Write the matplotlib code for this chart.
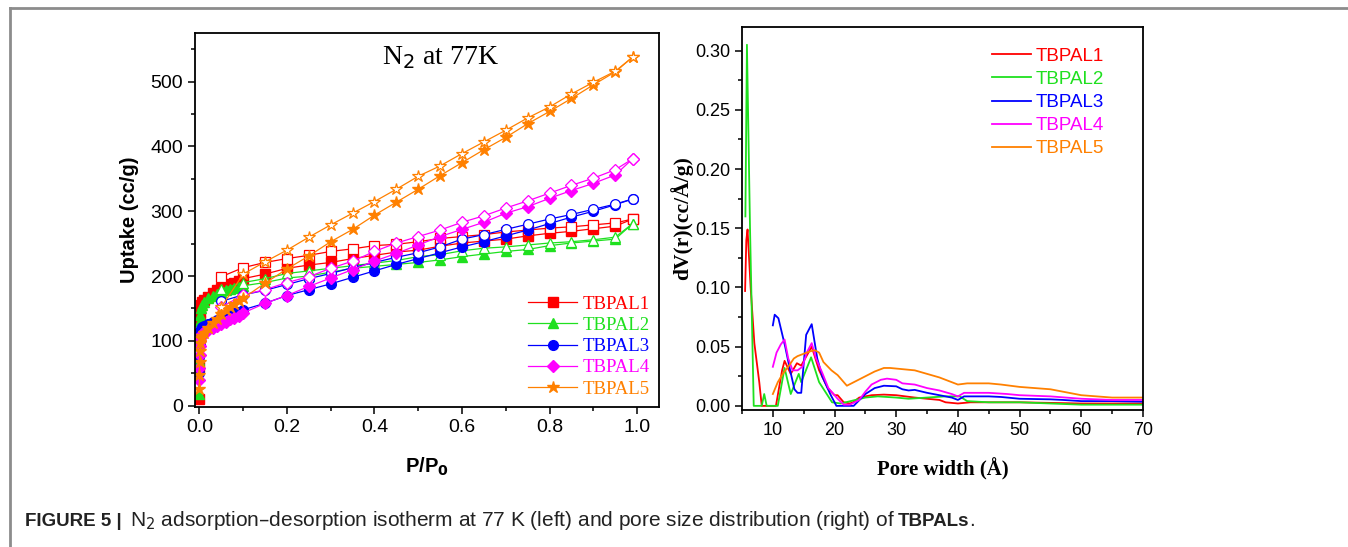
import matplotlib
matplotlib.use("Agg")
import matplotlib.pyplot as plt
from matplotlib.lines import Line2D
from matplotlib.ticker import MultipleLocator, FormatStrFormatter

# ---------------- data: left panel (N2 isotherms) ----------------
p_ads = [0.00005, 0.0002, 0.0005, 0.001, 0.002, 0.004, 0.007, 0.01,
         0.02, 0.03, 0.04, 0.05, 0.06, 0.07, 0.08, 0.09, 0.10,
         0.15, 0.20, 0.25, 0.30, 0.35, 0.40, 0.45, 0.50, 0.55, 0.60,
         0.65, 0.70, 0.75, 0.80, 0.85, 0.90, 0.95, 0.99]
p_des = [0.05, 0.10, 0.15, 0.20, 0.25, 0.30, 0.35, 0.40, 0.45, 0.50,
         0.55, 0.60, 0.65, 0.70, 0.75, 0.80, 0.85, 0.90, 0.95, 0.99]

tbpal1_ads = [10, 60, 110, 130, 145, 155, 160, 163,
              168, 174, 178, 182, 185, 188, 190, 193, 196,
              203, 212, 217, 221, 227, 232, 237, 240, 246, 251,
              254, 257, 262, 266, 269, 273, 277, 288]
tbpal1_des = [199, 213, 221, 227, 232, 238, 242, 247, 249, 253,
              258, 261, 264, 268, 271, 274, 276, 279, 282, 288]

tbpal2_ads = [18, 70, 110, 130, 140, 150, 155, 160,
              166, 170, 173, 176, 178, 180, 181, 183, 185,
              190, 197, 200, 206, 212, 215, 218, 221, 225, 230,
              234, 238, 241, 247, 251, 254, 257, 281]
tbpal2_des = [180, 190, 196, 204, 208, 212, 216, 220, 224, 230,
              233, 239, 243, 245, 248, 251, 253, 256, 260, 281]

tbpal3_ads = [50, 75, 95, 108, 115, 119, 121, 123,
              126, 129, 132, 135, 138, 140, 143, 145, 148,
              158, 170, 179, 188, 198, 208, 218, 227, 236, 245,
              253, 262, 271, 281, 291, 300, 310, 319]
tbpal3_des = [161, 171, 178, 187, 196, 204, 213, 221, 229, 236,
              245, 257, 264, 272, 280, 288, 295, 303, 311, 319]

tbpal4_ads = [40, 58, 78, 92, 100, 106, 110, 113,
              117, 120, 123, 126, 129, 133, 136, 139, 143,
              158, 170, 184, 197, 210, 223, 235, 248, 261, 272,
              283, 297, 307, 320, 332, 343, 356, 381]
tbpal4_des = [152, 171, 179, 190, 199, 212, 223, 238, 251, 261,
              271, 283, 293, 305, 316, 328, 340, 351, 364, 381]

tbpal5_ads = [25, 48, 68, 85, 97, 104, 108, 112,
              120, 127, 134, 141, 147, 152, 157, 161, 166,
              189, 211, 231, 253, 272, 294, 314, 334, 355, 375,
              395, 414, 435, 454, 474, 495, 515, 538]
tbpal5_des = [152, 203, 222, 240, 260, 279, 297, 315, 334, 354,
              370, 389, 407, 425, 444, 461, 481, 499, 516, 538]

labels = ["TBPAL1", "TBPAL2", "TBPAL3", "TBPAL4", "TBPAL5"]
colors = ["#ff0000", "#1fe01f", "#0000ff", "#ff00ff", "#ff8000"]
markers = ["s", "^", "o", "D", "*"]
ads_sets = [tbpal1_ads, tbpal2_ads, tbpal3_ads, tbpal4_ads, tbpal5_ads]
des_sets = [tbpal1_des, tbpal2_des, tbpal3_des, tbpal4_des, tbpal5_des]

# ---------------- data: right panel (pore size distribution) ----------------
psd1_x = [5.5, 5.7, 5.9, 6.4, 7.0, 7.8, 8.2, 10.5, 11.5, 11.9, 12.9, 13.9, 14.6,
          16.3, 17.5, 18.9, 20.0, 20.5, 21.5, 22.5, 23.0, 24.0, 26.0, 28.0, 30.0,
          33.0, 35.0, 37.0, 38.0, 40.0, 42.0, 50.0, 60.0, 70.0]
psd1_y = [0.097, 0.140, 0.149, 0.100, 0.053, 0.020, 0.0, 0.0, 0.030, 0.038, 0.027,
          0.036, 0.034, 0.050, 0.030, 0.015, 0.009, 0.009, 0.003, 0.002, 0.003,
          0.007, 0.009, 0.0095, 0.009, 0.007, 0.006, 0.005, 0.003, 0.002, 0.003,
          0.003, 0.002, 0.002]

psd2_x = [5.55, 5.8, 6.3, 6.9, 8.2, 8.6, 9.0, 10.8, 11.9, 12.9, 14.2, 14.6, 16.2,
          17.5, 19.6, 21.0, 25.0, 27.0, 30.0, 32.0, 35.0, 38.0, 40.3, 41.5, 45.0,
          50.0, 55.0, 60.0, 70.0]
psd2_y = [0.160, 0.305, 0.150, 0.0, 0.0, 0.010, 0.0, 0.0, 0.032, 0.010, 0.027,
          0.020, 0.041, 0.020, 0.003, 0.002, 0.007, 0.008, 0.007, 0.006, 0.007,
          0.008, 0.008, 0.004, 0.003, 0.003, 0.002, 0.001, 0.001]

psd3_x = [10.0, 10.3, 10.9, 12.0, 12.8, 13.5, 14.0, 14.6, 15.4, 16.3, 17.2, 18.0,
          19.3, 20.3, 23.1, 25.0, 26.5, 28.0, 30.0, 31.0, 32.0, 33.0, 35.0, 37.0,
          39.0, 40.0, 41.0, 45.0, 47.0, 50.0, 55.0, 57.0, 60.0, 65.0, 70.0]
psd3_y = [0.068, 0.077, 0.074, 0.050, 0.030, 0.014, 0.011, 0.011, 0.060, 0.069,
          0.040, 0.025, 0.010, 0.0, 0.0, 0.010, 0.015, 0.017, 0.0165, 0.014,
          0.013, 0.0135, 0.011, 0.009, 0.007, 0.005, 0.008, 0.008, 0.0075,
          0.006, 0.0055, 0.005, 0.004, 0.004, 0.0035]

psd4_x = [10.0, 10.6, 11.3, 11.9, 12.5, 13.2, 14.0, 14.8, 15.5, 16.3, 17.0, 18.0,
          19.0, 20.5, 21.5, 22.5, 24.0, 25.0, 26.0, 27.5, 28.5, 30.0, 31.0, 33.0,
          35.0, 37.0, 39.0, 40.0, 41.0, 45.0, 48.0, 50.0, 55.0, 60.0, 65.0, 70.0]
psd4_y = [0.033, 0.045, 0.052, 0.056, 0.040, 0.030, 0.030, 0.033, 0.045, 0.053,
          0.040, 0.028, 0.015, 0.006, 0.001, 0.001, 0.005, 0.012, 0.018, 0.022,
          0.023, 0.022, 0.019, 0.018, 0.015, 0.013, 0.010, 0.008, 0.011, 0.011,
          0.010, 0.009, 0.008, 0.006, 0.005, 0.005]

psd5_x = [10.0, 10.8, 11.6, 12.5, 13.4, 14.0, 15.0, 16.0, 16.8, 17.5, 18.2, 19.5,
          20.5, 21.5, 22.0, 23.5, 25.0, 26.5, 28.0, 29.0, 31.0, 33.0, 35.0, 37.0,
          38.5, 40.0, 41.5, 45.0, 47.0, 50.0, 55.0, 57.0, 60.0, 65.0, 70.0]
psd5_y = [0.010, 0.020, 0.027, 0.033, 0.040, 0.042, 0.044, 0.046, 0.047, 0.045,
          0.037, 0.030, 0.026, 0.020, 0.017, 0.021, 0.025, 0.029, 0.032, 0.032,
          0.031, 0.030, 0.027, 0.024, 0.021, 0.018, 0.019, 0.019, 0.018, 0.016,
          0.014, 0.012, 0.009, 0.007, 0.007]

psd_x = [psd1_x, psd2_x, psd3_x, psd4_x, psd5_x]
psd_y = [psd1_y, psd2_y, psd3_y, psd4_y, psd5_y]

# ---------------- figure ----------------
W, H = 1348, 547
fig = plt.figure(figsize=(W / 100, H / 100), dpi=100)
plt.rcParams["font.family"] = ["Liberation Sans", "DejaVu Sans"]

# outer frame (top and left edges)
fig.add_artist(Line2D([10 / W, 1.0], [1 - 8 / H, 1 - 8 / H], transform=fig.transFigure,
                      color="#8c8c8c", lw=2.0))
fig.add_artist(Line2D([10 / W, 10 / W], [0.0, 1 - 8 / H], transform=fig.transFigure,
                      color="#8c8c8c", lw=2.0))


def style_axes(ax, size):
    for s in ax.spines.values():
        s.set_linewidth(1.3)
    ax.tick_params(which="both", direction="out", top=False, right=False,
                   labelsize=size, width=1.1)
    ax.tick_params(which="major", length=5)
    ax.tick_params(which="minor", length=3)


# ---- left axes ----
axL = fig.add_axes([195 / W, 1 - 407 / H, (659 - 195) / W, (407 - 33) / H])
for lab, col, mk, ya, yd in zip(labels, colors, markers, ads_sets, des_sets):
    ms = 9 if mk == "*" else 7
    if mk == "D":
        ms = 6.5
    axL.plot(p_ads, ya, color=col, lw=0.9, marker=mk, ms=ms, mfc=col, mec=col, label=lab)
    axL.plot(p_des, yd, color=col, lw=0.9, marker=mk, ms=ms, mfc="white", mec=col, mew=0.9)
axL.set_xlim(-0.01, 1.05)
axL.set_ylim(-2, 575)
axL.xaxis.set_major_locator(MultipleLocator(0.2))
axL.xaxis.set_minor_locator(MultipleLocator(0.1))
axL.yaxis.set_major_locator(MultipleLocator(100))
axL.yaxis.set_minor_locator(MultipleLocator(50))
axL.xaxis.set_major_formatter(FormatStrFormatter("%.1f"))
style_axes(axL, 14)
axL.set_ylabel("Uptake (cc/g)", fontsize=14.5, fontweight="bold", labelpad=8)
axL.set_xlabel(r"P/P$_\mathbf{0}$", fontsize=14.5, fontweight="bold", labelpad=14)
axL.text(0.53, 0.935, r"N$_2$ at 77K", transform=axL.transAxes, ha="center", va="center",
         fontsize=20, family="Liberation Serif")
legL = axL.legend(loc="lower right", frameon=False,
                  prop={"family": "Liberation Serif", "size": 13.5},
                  handlelength=2.6, handletextpad=0.3, labelspacing=0.22,
                  borderaxespad=0.1)
for t, c in zip(legL.get_texts(), colors):
    t.set_color(c)

# ---- right axes ----
axR = fig.add_axes([742 / W, 1 - 410 / H, (1143 - 742) / W, (410 - 27) / H])
for lab, col, xs, ys in zip(labels, colors, psd_x, psd_y):
    axR.plot(xs, ys, color=col, lw=1.3, label=lab)
axR.set_xlim(5, 70)
axR.set_ylim(-0.0035, 0.320)
axR.xaxis.set_major_locator(MultipleLocator(10))
axR.xaxis.set_minor_locator(MultipleLocator(5))
axR.yaxis.set_major_locator(MultipleLocator(0.05))
axR.yaxis.set_minor_locator(MultipleLocator(0.025))
axR.yaxis.set_major_formatter(FormatStrFormatter("%.2f"))
style_axes(axR, 13)
axR.set_xticks([10, 20, 30, 40, 50, 60, 70])
axR.set_ylabel("dV(r)(cc/Å/g)", fontsize=15.5, fontweight="bold", family="Liberation Serif",
               labelpad=1)
axR.set_xlabel("Pore width (Å)", fontsize=15, fontweight="bold", family="Liberation Serif",
               labelpad=14)
legR = axR.legend(loc="upper right", frameon=False, fontsize=13.5, handlelength=2.1,
                  handletextpad=0.25, labelspacing=0.32, bbox_to_anchor=(0.945, 0.99))
for t, c in zip(legR.get_texts(), colors):
    t.set_color(c)

# ---- caption ----
fig.canvas.draw()
renderer = fig.canvas.get_renderer()
pieces = [("FIGURE 5 | ", "bold", 13.5),
          ("N$_2$ adsorption–desorption isotherm at 77 K (left) and pore size distribution (right) of ",
           "normal", 15),
          ("TBPALs", "bold", 13.5),
          (".", "normal", 15)]
x = 25 / W
y = 1 - 521 / H
for txt, wgt, fs in pieces:
    t = fig.text(x, y, txt, fontsize=fs, fontweight=wgt, color="#222222", va="center",
                 ha="left")
    bb = t.get_window_extent(renderer=renderer)
    x = bb.x1 / W + (3 / W if txt.endswith(" ") else 0)

fig.savefig("out.png", dpi=100)
